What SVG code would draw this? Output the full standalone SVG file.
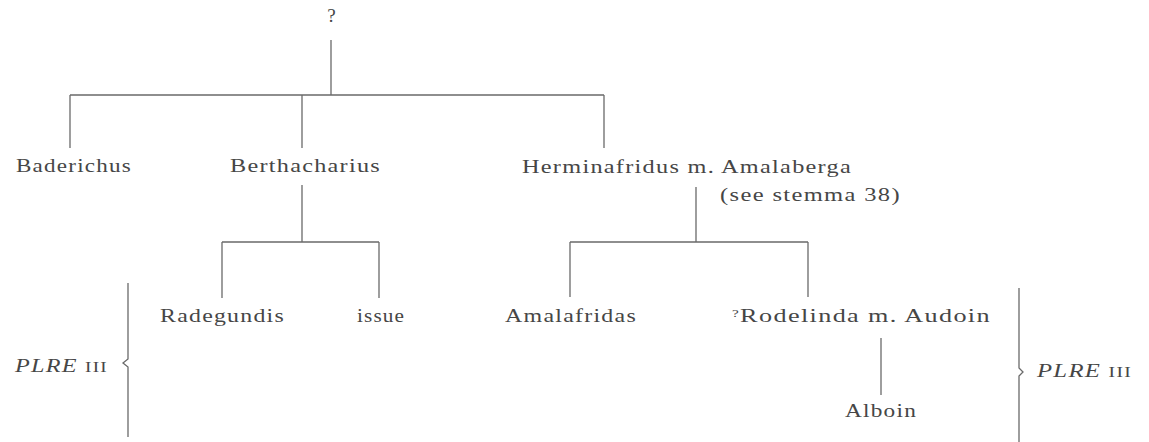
<svg xmlns="http://www.w3.org/2000/svg" width="1149" height="442" viewBox="0 0 1149 442">
<style>
.t{font-family:"Liberation Serif","Times New Roman",serif;font-size:19px;letter-spacing:1px;fill:#464646}
.s{font-size:18px}
.it{font-style:italic}
.ln{stroke:#6a6a6a;stroke-width:1.3;fill:none}
</style>
<rect width="1149" height="442" fill="#ffffff"/>
<g id="connectors" class="ln">
<path d="M331 40V95M70 95H604M70 95V148M302 95V148M604 95V148"/>
<path d="M302 185V242M222 242H379M222 242V298M379 242V298"/>
<path d="M696 187V242M570 242H808M570 242V297M808 242V297"/>
<path d="M881 338V395"/>
<path d="M128 283V359L123 363L128 367V437"/>
<path d="M1019 288V368L1023 372L1019 376V442"/>
</g>
<g id="n-root"><text class="t" x="332" y="22" text-anchor="middle" font-size="13" letter-spacing="0">?</text></g>
<g id="n-baderichus"><text class="t" x="16" y="172" textLength="116" lengthAdjust="spacingAndGlyphs">Baderichus</text></g>
<g id="n-berthacharius"><text class="t" x="230" y="172" textLength="151" lengthAdjust="spacingAndGlyphs">Berthacharius</text></g>
<g id="n-herminafridus"><text class="t" x="522" y="173" textLength="330" lengthAdjust="spacingAndGlyphs">Herminafridus m. Amalaberga</text>
<text class="t s" x="720" y="201" textLength="181" lengthAdjust="spacingAndGlyphs">(see stemma 38)</text></g>
<g id="n-radegundis"><text class="t" x="160" y="322" textLength="125" lengthAdjust="spacingAndGlyphs">Radegundis</text></g>
<g id="n-issue"><text class="t" x="357" y="322" textLength="48" lengthAdjust="spacingAndGlyphs">issue</text></g>
<g id="n-amalafridas"><text class="t" x="505" y="322" textLength="132" lengthAdjust="spacingAndGlyphs">Amalafridas</text></g>
<g id="n-rodelinda"><text class="t" x="732" y="322" textLength="259" lengthAdjust="spacingAndGlyphs"><tspan font-size="11" dy="-5">?</tspan><tspan dy="5">Rodelinda m. Audoin</tspan></text></g>
<g id="n-alboin"><text class="t" x="845" y="417" textLength="72" lengthAdjust="spacingAndGlyphs">Alboin</text></g>
<g id="plre-left"><text class="t" x="15" y="372" textLength="93" lengthAdjust="spacingAndGlyphs"><tspan class="it">PLRE</tspan> <tspan font-size="15">III</tspan></text></g>
<g id="plre-right"><text class="t" x="1037" y="377" textLength="95" lengthAdjust="spacingAndGlyphs"><tspan class="it">PLRE</tspan> <tspan font-size="15">III</tspan></text></g>
</svg>
